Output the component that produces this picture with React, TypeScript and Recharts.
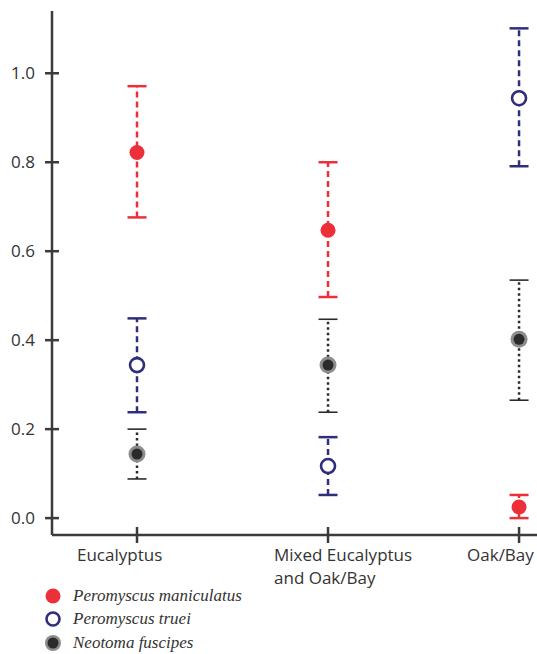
import { ErrorBar, Scatter, ScatterChart, XAxis, YAxis } from "recharts";

// habitat categories along the x axis
const sites = ["Eucalyptus", "Mixed Eucalyptus|and Oak/Bay", "Oak/Bay"];
const yTicks = [0, 0.2, 0.4, 0.6, 0.8, 1.0];

// Peromyscus maniculatus
const maniMean = [0.822, 0.647, 0.025];
const maniLow = [0.676, 0.497, 0.0];
const maniHigh = [0.971, 0.8, 0.052];

// Peromyscus truei
const trueiMean = [0.344, 0.117, 0.944];
const trueiLow = [0.238, 0.052, 0.791];
const trueiHigh = [0.449, 0.182, 1.101];

// Neotoma fuscipes
const neoMean = [0.144, 0.344, 0.402];
const neoLow = [0.088, 0.238, 0.265];
const neoHigh = [0.2, 0.447, 0.535];

const AXIS = "#3b3b3b";
const RED = "#ec2f39";
const NAVY = "#2f2e7a";
const DARK = "#2b2b2b";

const points = (mean: number[], low: number[], high: number[]) =>
  mean.map((m, i) => ({ x: i, y: m, err: [m - low[i], high[i] - m] }));

const caps = (low: number[], high: number[]) =>
  low.flatMap((l, i) => [
    { x: i, y: l },
    { x: i, y: high[i] },
  ]);

const labelDx = [-60, -54, -52];

const capShape = (color: string, w: number) => (p: any) =>
  <line x1={p.cx - 9.5} x2={p.cx + 9.5} y1={p.cy} y2={p.cy} stroke={color} strokeWidth={w} />;

const RedDot = (p: any) => <circle cx={p.cx} cy={p.cy} r={7.5} fill={RED} />;
const OpenDot = (p: any) => <circle cx={p.cx} cy={p.cy} r={7} fill="#fff" stroke={NAVY} strokeWidth={2.6} />;
const GreyDot = (p: any) => (
  <g>
    <circle cx={p.cx} cy={p.cy} r={8.5} fill="#8d8d8d" />
    <circle cx={p.cx} cy={p.cy} r={5.5} fill={DARK} />
  </g>
);

const YTick = ({ x, y, payload }: any) => (
  <g>
    <line x1={x - 7} x2={x + 7} y1={y} y2={y} stroke={AXIS} strokeWidth={2.5} />
    <text x={x - 17} y={y + 6} textAnchor="end" fontSize={17} fill="#333" fontFamily="'Open Sans', sans-serif">
      {Number(payload.value).toFixed(1)}
    </text>
  </g>
);

const XTick = ({ x, y, payload }: any) => {
  const lines = String(sites[payload.value] ?? "").split("|");
  return (
    <g>
      <line x1={x} x2={x} y1={y - 8} y2={y + 8} stroke={AXIS} strokeWidth={2.5} />
      <text x={x + labelDx[payload.value]} y={y + 26} fontSize={17} fill="#333" fontFamily="'Open Sans', sans-serif">
        {lines.map((l, i) => (
          <tspan key={i} x={x + labelDx[payload.value]} dy={i === 0 ? 0 : 23}>
            {l}
          </tspan>
        ))}
      </text>
    </g>
  );
};

const legendItems = [
  { name: "Peromyscus maniculatus", kind: "red" },
  { name: "Peromyscus truei", kind: "open" },
  { name: "Neotoma fuscipes", kind: "grey" },
];

export default function App() {
  return (
    <div style={{ position: "absolute", left: 0, top: 0, width: 537, height: 654, background: "#fff", overflow: "hidden" }}>
      <ScatterChart width={537} height={654} margin={{ top: 11, right: 0, bottom: 0, left: 0 }}>
        <XAxis
          type="number"
          dataKey="x"
          domain={[-0.445, 2.094]}
          ticks={[0, 1, 2]}
          height={119}
          tickSize={0}
          tickMargin={0}
          tick={<XTick />}
          axisLine={{ stroke: AXIS, strokeWidth: 2.5 }}
          allowDataOverflow
        />
        <YAxis
          type="number"
          dataKey="y"
          domain={[-0.038, 1.14]}
          ticks={yTicks}
          width={52}
          tickSize={0}
          tickMargin={0}
          tick={<YTick />}
          axisLine={{ stroke: AXIS, strokeWidth: 2.5 }}
          allowDataOverflow
        />

        <Scatter data={caps(maniLow, maniHigh)} shape={capShape(RED, 2.5)} isAnimationActive={false} />
        <Scatter data={caps(trueiLow, trueiHigh)} shape={capShape(NAVY, 2.5)} isAnimationActive={false} />
        <Scatter data={caps(neoLow, neoHigh)} shape={capShape(DARK, 1.6)} isAnimationActive={false} />

        <Scatter data={points(maniMean, maniLow, maniHigh)} shape={RedDot} isAnimationActive={false}>
          <ErrorBar dataKey="err" direction="y" width={0} stroke={RED} strokeWidth={2.5} strokeDasharray="6 4" isAnimationActive={false} />
        </Scatter>
        <Scatter data={points(trueiMean, trueiLow, trueiHigh)} shape={OpenDot} isAnimationActive={false}>
          <ErrorBar dataKey="err" direction="y" width={0} stroke={NAVY} strokeWidth={2.5} strokeDasharray="6 4" isAnimationActive={false} />
        </Scatter>
        <Scatter data={points(neoMean, neoLow, neoHigh)} shape={GreyDot} isAnimationActive={false}>
          <ErrorBar dataKey="err" direction="y" width={0} stroke={DARK} strokeWidth={2.5} strokeDasharray="2.5 3" isAnimationActive={false} />
        </Scatter>
      </ScatterChart>

      <div style={{ position: "absolute", left: 44, top: 584 }}>
        {legendItems.map((it) => (
          <div key={it.name} style={{ display: "flex", alignItems: "center", height: 23.5 }}>
            <svg width={20} height={20}>
              {it.kind === "red" && <circle cx={9} cy={10} r={7.5} fill={RED} />}
              {it.kind === "open" && <circle cx={9} cy={10} r={6.5} fill="#fff" stroke={NAVY} strokeWidth={2.6} />}
              {it.kind === "grey" && (
                <g>
                  <circle cx={9} cy={10} r={8} fill="#8d8d8d" />
                  <circle cx={9} cy={10} r={5.5} fill={DARK} />
                </g>
              )}
            </svg>
            <span
              style={{
                marginLeft: 9,
                fontFamily: "'Liberation Serif', serif",
                fontStyle: "italic",
                fontSize: 17,
                color: "#333",
              }}
            >
              {it.name}
            </span>
          </div>
        ))}
      </div>
    </div>
  );
}
